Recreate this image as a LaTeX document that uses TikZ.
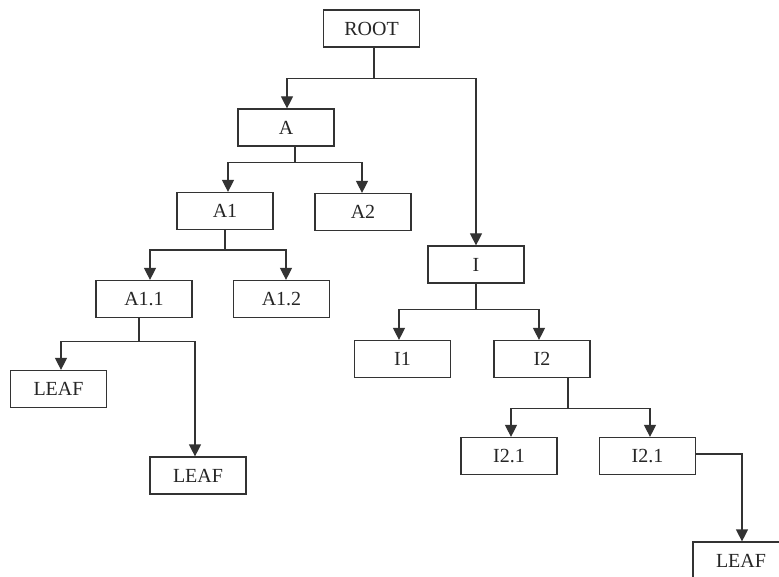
\documentclass[tikz,border=0pt]{standalone}
\usepackage{fontspec}
\setmainfont{Liberation Serif}
\usetikzlibrary{arrows.meta}
\tikzset{
  box/.style={draw=black!80, line width=1.2pt, fill=white, minimum width=96pt, minimum height=37pt, inner sep=0pt, text=black!85, font=\fontsize{20}{24}\selectfont},
  conn/.style={draw=black!80, line width=1.2pt},
  arr/.style={conn, -{Triangle[length=12pt,width=12pt]}}
}
\begin{document}
\begin{tikzpicture}[x=1pt,y=-1pt]
\useasboundingbox (0,0) rectangle (779,577);
\fill[white] (0,0) rectangle (779,577);
\node[box] (ROOT) at (371.5,28.5) {ROOT};
\node[box] (A) at (286,127.5) {A};
\node[box] (A1) at (225,211) {A1};
\node[box] (A2) at (363,212) {A2};
\node[box] (A11) at (144,299) {A1.1};
\node[box] (A12) at (281.5,299) {A1.2};
\node[box] (L1) at (58.5,389) {LEAF};
\node[box] (L2) at (198,475.5) {LEAF};
\node[box] (I) at (476,264.5) {I};
\node[box] (I1) at (402.5,359) {I1};
\node[box] (I2) at (542,359) {I2};
\node[box] (I21a) at (509,456) {I2.1};
\node[box] (I21b) at (647.5,456) {I2.1};
\node[box] (L3) at (741,560.5) {LEAF};
% ROOT
\draw[conn] ([xshift=2.5]ROOT.south) -- ++(0,31) coordinate (jR);
\draw[arr] (jR) -| ([xshift=1]A.north);
\draw[arr] (jR) -| (I.north);
% A
\draw[conn] ([xshift=9]A.south) -- ++(0,16) coordinate (jA);
\draw[arr] (jA) -| ([xshift=3]A1.north);
\draw[arr] (jA) -| ([xshift=-1]A2.north);
% A1
\draw[conn] (A1.south) -- ++(0,20) coordinate (jA1);
\draw[arr] (jA1) -| ([xshift=6]A11.north);
\draw[arr] (jA1) -| ([xshift=4.5]A12.north);
% A1.1
\draw[conn] ([xshift=-5]A11.south) -- ++(0,23) coordinate (jA11);
\draw[arr] (jA11) -| ([xshift=2.5]L1.north);
\draw[arr] (jA11) -| ([xshift=-3]L2.north);
% I
\draw[conn] (I.south) -- ++(0,26) coordinate (jI);
\draw[arr] (jI) -| ([xshift=-3.5]I1.north);
\draw[arr] (jI) -| ([xshift=-3]I2.north);
% I2
\draw[conn] ([xshift=26]I2.south) -- ++(0,30) coordinate (jI2);
\draw[arr] (jI2) -| ([xshift=2]I21a.north);
\draw[arr] (jI2) -| ([xshift=2.5]I21b.north);
% I2.1b
\draw[arr] ([yshift=2]I21b.east) -| ([xshift=1]L3.north);
\end{tikzpicture}
\end{document}
